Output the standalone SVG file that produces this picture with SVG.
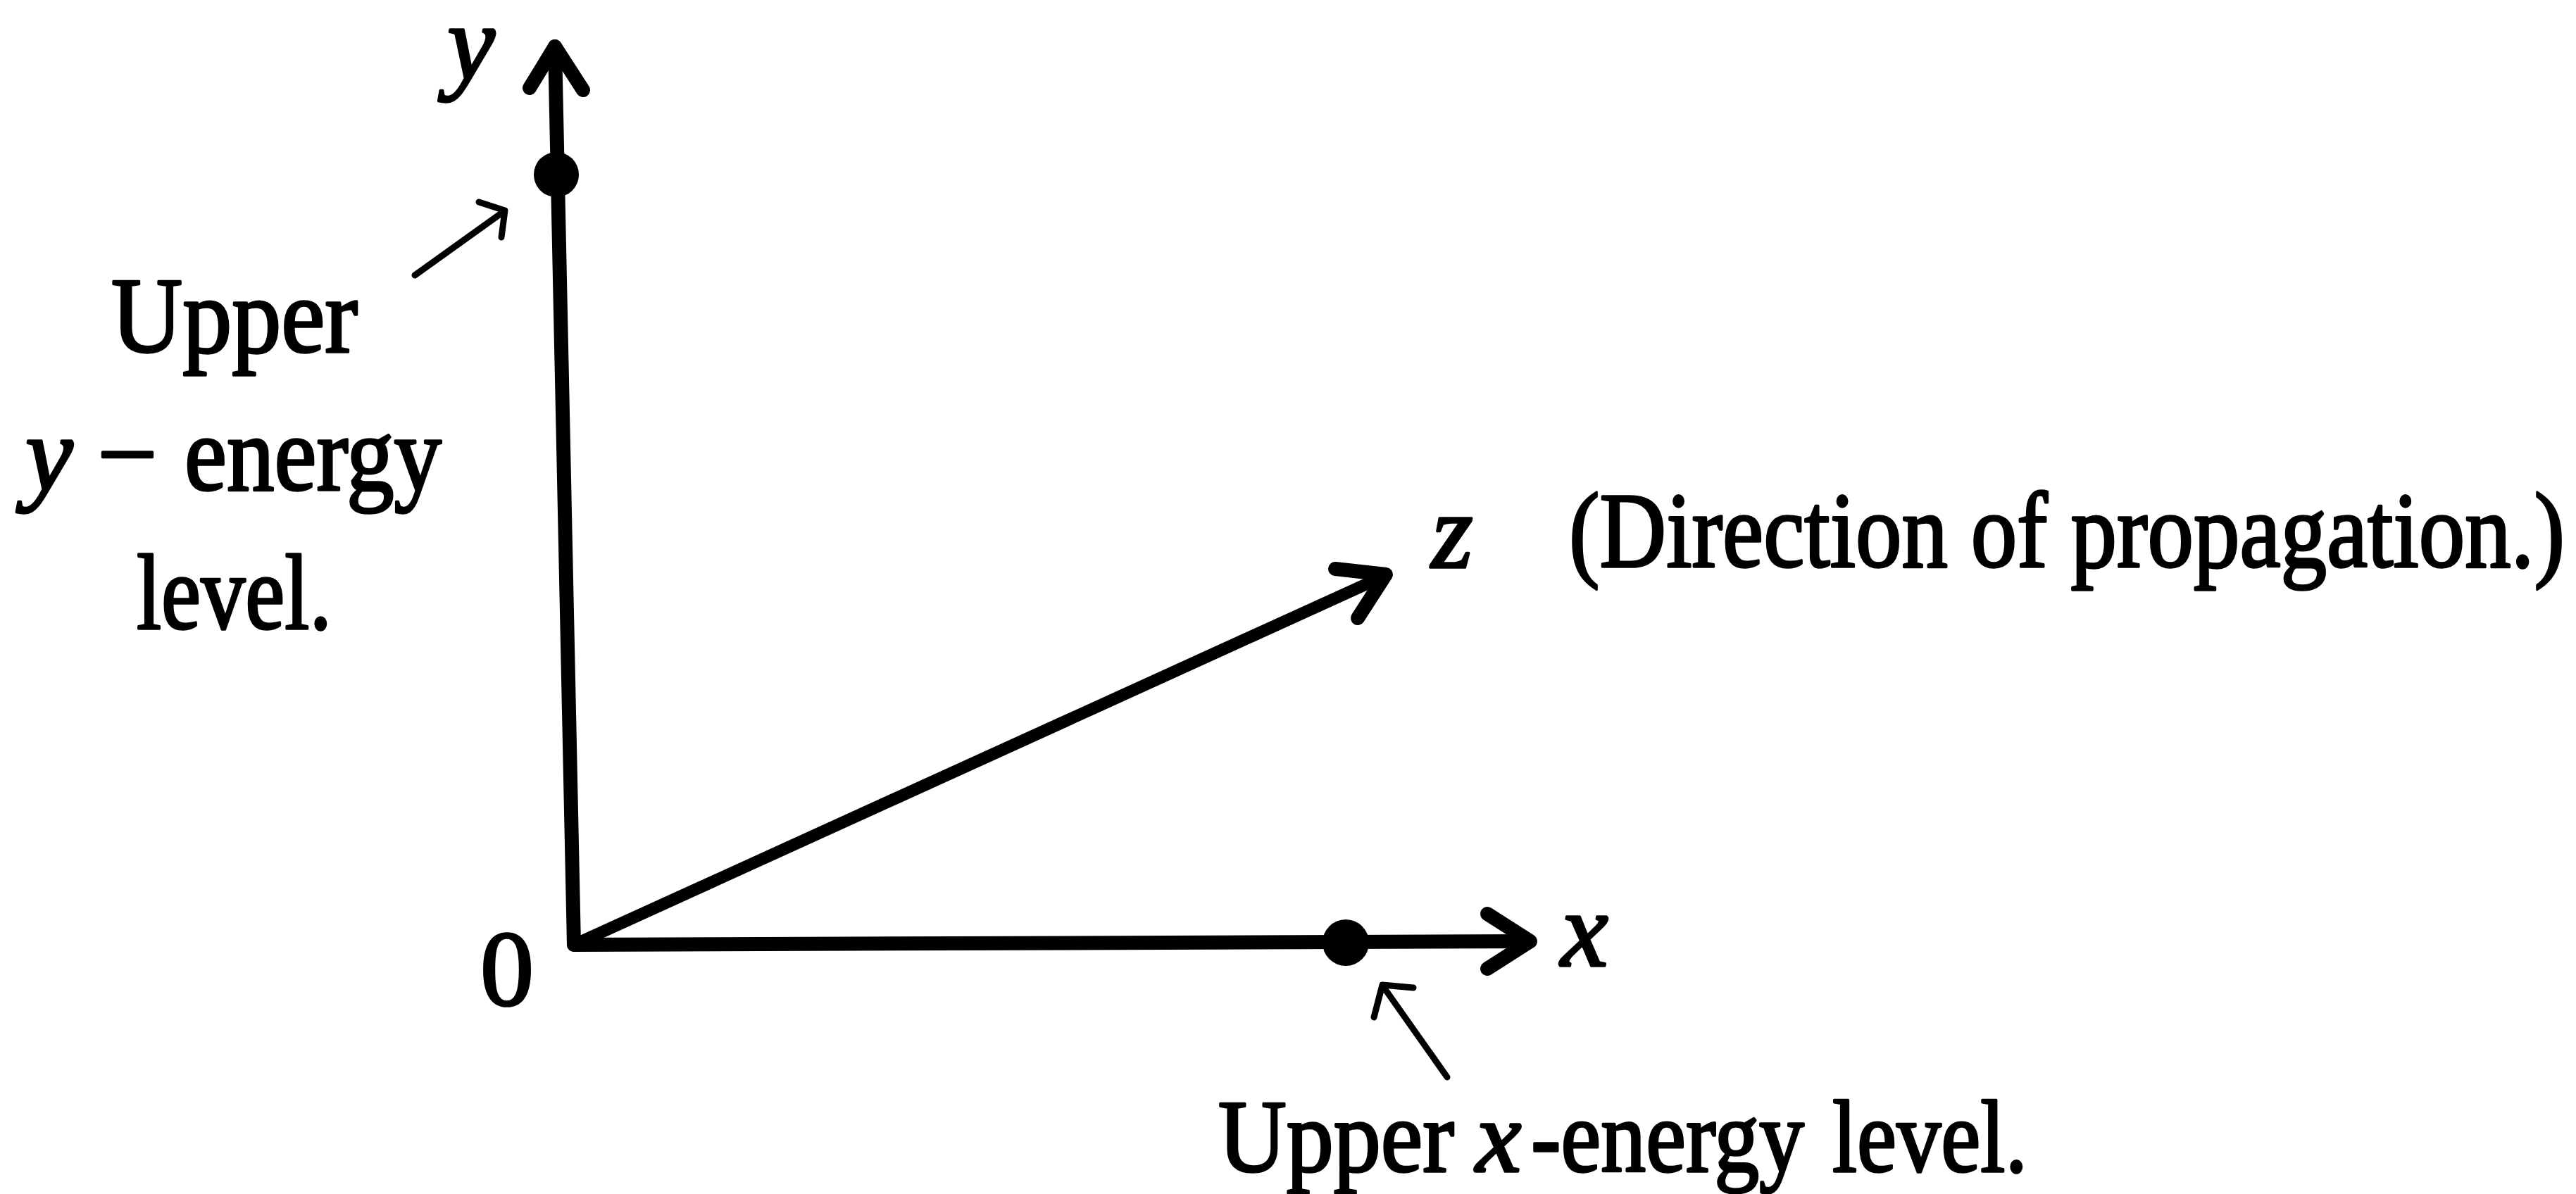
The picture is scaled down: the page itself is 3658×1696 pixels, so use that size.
<svg xmlns="http://www.w3.org/2000/svg" width="3658" height="1696" viewBox="0 0 3658 1696">
<style>
text{font-family:"Liberation Serif","DejaVu Serif",serif;font-size:152px;fill:#000;stroke:#000;stroke-width:3.5;stroke-linejoin:round}
.it{font-style:italic}
.bottom text{font-size:146px}
.axis{stroke:#000;stroke-width:20;fill:none;stroke-linecap:round;stroke-linejoin:round}
.zax{stroke:#000;stroke-width:17;fill:none;stroke-linecap:round}
.ptr{stroke:#000;stroke-width:9;fill:none;stroke-linecap:round;stroke-linejoin:round}
.dot{fill:#000}
</style>
<rect width="3658" height="1696" fill="#fff"/>
<g id="connectors">
  <path id="y-axis" class="axis" d="M815,1342 L788,66"/>
  <path id="y-head" class="axis" d="M752,125 L788,66 L828,128"/>
  <path id="x-axis" class="axis" d="M815,1342 L2172,1337"/>
  <path id="x-head" class="axis" d="M2112,1298 L2173,1337 L2112,1376"/>
  <path id="z-axis" class="zax" d="M815,1342 L1966,818"/>
  <path id="z-head" class="axis" d="M1896,808 L1968,816 L1928,878"/>
  <path id="ptr-y" class="ptr" d="M589,391 L716,300"/>
  <path id="ptr-y-head" class="ptr" d="M680,287 L717,299 L712,337"/>
  <path id="ptr-x" class="ptr" d="M2055,1530 L1964,1401"/>
  <path id="ptr-x-head" class="ptr" d="M2007,1403 L1963,1399 L1951,1445"/>
</g>
<g id="upper-y-point"><circle class="dot" cx="790" cy="248" r="32"/></g>
<g id="upper-x-point"><circle class="dot" cx="1911" cy="1339" r="33"/></g>
<g id="label-y"><text class="it" x="669" y="112" text-anchor="middle">y</text></g>
<g id="label-origin"><text x="720" y="1428" text-anchor="middle">0</text></g>
<g id="label-z"><text class="it" x="2062" y="806" text-anchor="middle">z</text></g>
<g id="label-x"><text class="it" x="2250" y="1372" text-anchor="middle">x</text></g>
<g id="label-direction"><text x="2228" y="805" textLength="1414" lengthAdjust="spacingAndGlyphs">(Direction of propagation.)</text></g>
<g id="label-upper-y">
  <text x="158" y="500" textLength="350" lengthAdjust="spacingAndGlyphs">Upper</text>
  <text class="it" x="36" y="696">y</text>
  <text x="181" y="696" text-anchor="middle">−</text>
  <text x="262" y="696" textLength="365" lengthAdjust="spacingAndGlyphs">energy</text>
  <text x="194" y="893" textLength="277" lengthAdjust="spacingAndGlyphs">level.</text>
</g>
<g id="label-upper-x" class="bottom">
  <text x="1730" y="1664" textLength="335" lengthAdjust="spacingAndGlyphs">Upper</text>
  <text class="it" x="2128" y="1664" text-anchor="middle">x</text>
  <text x="2174" y="1664" textLength="388" lengthAdjust="spacingAndGlyphs">-energy</text>
  <text x="2602" y="1664" textLength="277" lengthAdjust="spacingAndGlyphs">level.</text>
</g>
</svg>
